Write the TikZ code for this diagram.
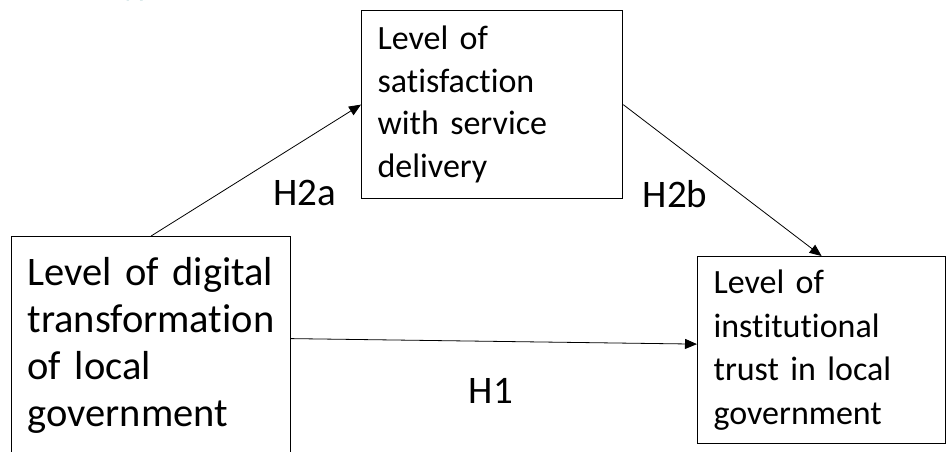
\documentclass[tikz,border=0pt]{standalone}
\usepackage{fontspec}
\setmainfont[Ligatures=NoCommon]{Carlito}
\usepackage{tikz}
\usetikzlibrary{positioning, arrows.meta}
\definecolor{headteal}{RGB}{31,122,128}
\hyphenpenalty=10000
\exhyphenpenalty=10000

\begin{document}
\begin{tikzpicture}[x=1pt, y=-1pt,
    box/.style={draw=black, line width=1.2pt, rectangle, anchor=north west, align=left, inner xsep=16pt, inner ysep=0pt},
    lbl/.style={anchor=base, font=\fontsize{39}{41}\selectfont},
    link/.style={line width=0.8pt, -{Triangle[length=12pt, width=10pt]}}]
            \useasboundingbox (0,0) rectangle (947,451);
            \clip (0,0) rectangle (947,451);

            % heading, cut off at the top
            \node[anchor=base west, text=headteal, font=\fontsize{32}{34}\selectfont] (heading) at (100,-5) {Hypotheses};

            \node[box, minimum width=279pt, minimum height=218pt, text width=247pt, font=\fontsize{40.5}{47}\selectfont] (digital) at (11,236) {Level of digital\\ transformation\\ of local\\ government};
            \node[box, minimum width=261pt, minimum height=188pt, text width=229pt, font=\fontsize{34}{42.5}\selectfont] (satisfaction) at (361,10) {Level of\\ satisfaction\\ with service\\ delivery};
            \node[box, minimum width=248pt, minimum height=187pt, text width=216pt, font=\fontsize{34}{43.5}\selectfont] (trust) at (697,256) {Level of\\ institutional\\ trust in local\\ government};

            \node[lbl] (h2a) at (305,205) {H2a};
            \node[lbl] (h2b) at (675,207) {H2b};
            \node[lbl] (h1) at (491,403) {H1};

            \draw[link] (digital.north) -- (satisfaction.west);
            \draw[link] (satisfaction.east) -- (trust.north);
            \draw[link] ([yshift=7pt]digital.east) -- ([yshift=6pt]trust.west);
        \end{tikzpicture}
\end{document}
